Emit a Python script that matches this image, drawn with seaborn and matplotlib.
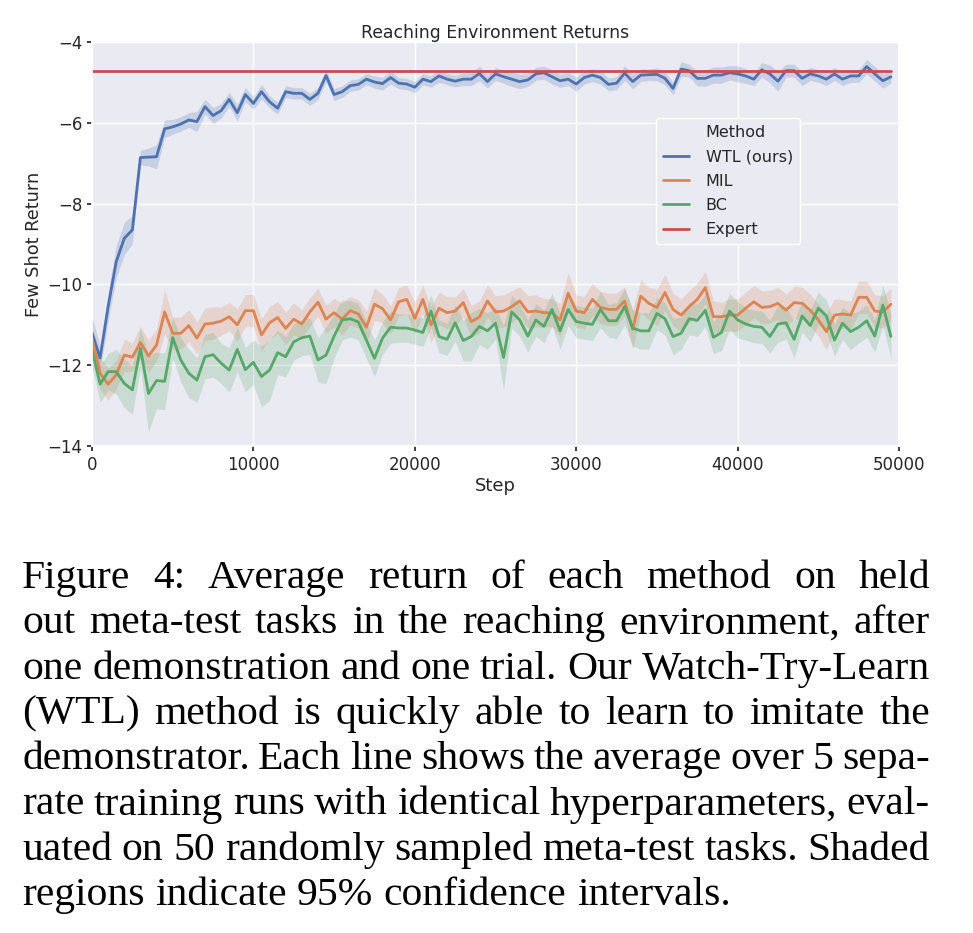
import numpy as np
import pandas as pd
import matplotlib
matplotlib.use("Agg")
import matplotlib.pyplot as plt
from matplotlib.lines import Line2D
import seaborn as sns

# training steps (one eval every 500 steps)
steps = np.arange(0, 50000, 500)

# mean few shot return per method
wtl_mean = [
    -11.20, -11.82, -10.55, -9.44, -8.86, -8.65, -6.86, -6.85, -6.84, -6.15,
    -6.10, -6.03, -5.93, -5.97, -5.60, -5.82, -5.70, -5.42, -5.75, -5.30,
    -5.52, -5.23, -5.48, -5.64, -5.23, -5.27, -5.27, -5.42, -5.27, -4.83,
    -5.30, -5.23, -5.08, -5.05, -4.92, -4.99, -5.03, -4.88, -5.02, -5.04,
    -5.12, -4.92, -4.98, -4.84, -4.92, -4.97, -4.92, -4.92, -4.78, -4.98,
    -4.79, -4.86, -4.92, -4.98, -4.94, -4.79, -4.76, -4.86, -4.96, -4.92,
    -5.04, -4.88, -4.82, -4.88, -5.05, -5.02, -4.77, -4.98, -4.82, -4.81,
    -4.80, -4.90, -5.15, -4.67, -4.71, -4.90, -4.90, -4.82, -4.82, -4.76,
    -4.79, -4.84, -4.92, -4.69, -4.79, -4.97, -4.71, -4.71, -4.90, -4.79,
    -4.84, -4.92, -4.79, -4.92, -4.84, -4.84, -4.61, -4.79, -4.96, -4.86]
mil_mean = [
    -11.33, -12.20, -12.47, -12.24, -11.75, -11.80, -11.44, -11.77, -11.50, -10.68,
    -11.21, -11.21, -11.02, -11.33, -10.98, -10.96, -10.91, -10.80, -11.00, -10.65,
    -10.65, -11.25, -10.95, -10.82, -11.09, -10.86, -10.98, -10.68, -10.44, -10.86,
    -10.70, -10.86, -10.65, -10.73, -11.06, -10.49, -10.60, -10.88, -10.43, -10.37,
    -10.84, -10.37, -11.00, -10.59, -10.70, -10.66, -10.45, -10.92, -10.81, -10.41,
    -10.68, -10.66, -10.55, -10.41, -10.68, -10.66, -10.70, -10.70, -10.88, -10.22,
    -10.66, -10.70, -10.37, -10.57, -10.62, -10.62, -10.41, -11.11, -10.29, -10.47,
    -10.57, -10.20, -10.62, -10.76, -10.55, -10.37, -10.08, -10.80, -10.80, -10.76,
    -10.76, -10.59, -10.43, -10.57, -10.55, -10.47, -10.64, -10.45, -10.47, -10.64,
    -10.88, -11.17, -10.76, -10.73, -10.76, -10.32, -10.32, -10.66, -10.68, -10.49]
bc_mean = [
    -11.62, -12.47, -12.16, -12.16, -12.45, -12.61, -11.58, -12.70, -12.38, -12.40,
    -11.32, -11.87, -12.20, -12.37, -11.79, -11.74, -11.95, -12.12, -11.61, -12.11,
    -11.93, -12.28, -12.12, -11.69, -11.79, -11.42, -11.32, -11.28, -11.87, -11.75,
    -11.28, -10.88, -10.85, -10.93, -11.38, -11.83, -11.33, -11.06, -11.08, -11.08,
    -11.13, -11.19, -10.66, -11.29, -11.36, -10.95, -11.39, -11.29, -11.04, -11.15,
    -10.96, -11.81, -10.68, -10.88, -11.28, -10.88, -11.04, -10.62, -11.15, -10.62,
    -10.92, -10.96, -10.99, -10.62, -10.90, -10.90, -10.55, -11.08, -11.15, -11.15,
    -10.72, -10.85, -11.29, -11.21, -10.85, -10.89, -10.64, -11.31, -11.19, -10.66,
    -10.88, -10.98, -11.04, -11.06, -11.29, -10.98, -10.95, -11.36, -10.78, -11.02,
    -10.59, -10.78, -11.38, -10.96, -11.17, -11.06, -10.90, -11.28, -10.51, -11.29]
expert_return = -4.72

# half width of the 95% confidence band
wtl_ci = [
    0.40, 0.30, 0.35, 0.40, 0.40, 0.35, 0.18, 0.22, 0.30, 0.22,
    0.18, 0.18, 0.18, 0.25, 0.18, 0.20, 0.18, 0.18, 0.20, 0.18,
    0.15, 0.18, 0.15, 0.15, 0.15, 0.14, 0.14, 0.15, 0.15, 0.15,
    0.15, 0.14, 0.14, 0.14, 0.14, 0.15, 0.16, 0.16, 0.14, 0.14,
    0.14, 0.14, 0.14, 0.16, 0.14, 0.14, 0.16, 0.16, 0.18, 0.16,
    0.16, 0.16, 0.18, 0.18, 0.16, 0.16, 0.16, 0.18, 0.16, 0.16,
    0.18, 0.16, 0.16, 0.16, 0.16, 0.16, 0.18, 0.18, 0.16, 0.14,
    0.16, 0.16, 0.16, 0.18, 0.16, 0.18, 0.20, 0.20, 0.20, 0.18,
    0.20, 0.18, 0.16, 0.18, 0.22, 0.25, 0.16, 0.16, 0.18, 0.16,
    0.16, 0.16, 0.16, 0.16, 0.16, 0.16, 0.18, 0.18, 0.18, 0.16]
mil_ci = [
    0.30, 0.40, 0.40, 0.35, 0.40, 0.35, 0.40, 0.40, 0.40, 0.55,
    0.40, 0.40, 0.40, 0.40, 0.40, 0.40, 0.35, 0.35, 0.40, 0.40,
    0.40, 0.40, 0.40, 0.40, 0.40, 0.40, 0.35, 0.35, 0.35, 0.35,
    0.35, 0.40, 0.35, 0.35, 0.40, 0.40, 0.35, 0.35, 0.35, 0.35,
    0.40, 0.35, 0.45, 0.40, 0.40, 0.35, 0.35, 0.40, 0.40, 0.40,
    0.40, 0.40, 0.40, 0.35, 0.40, 0.40, 0.35, 0.35, 0.40, 0.50,
    0.40, 0.40, 0.40, 0.40, 0.40, 0.40, 0.35, 0.50, 0.40, 0.40,
    0.45, 0.45, 0.40, 0.40, 0.40, 0.40, 0.40, 0.40, 0.35, 0.40,
    0.40, 0.40, 0.40, 0.40, 0.40, 0.40, 0.40, 0.40, 0.40, 0.40,
    0.40, 0.45, 0.40, 0.35, 0.35, 0.40, 0.40, 0.40, 0.40, 0.40]
bc_ci = [
    0.40, 0.45, 0.45, 0.55, 0.60, 0.60, 0.50, 0.95, 0.70, 0.70,
    0.50, 0.55, 0.60, 0.55, 0.55, 0.55, 0.50, 0.55, 0.55, 0.55,
    0.55, 0.75, 0.75, 0.55, 0.50, 0.45, 0.45, 0.45, 0.55, 0.70,
    0.55, 0.50, 0.45, 0.45, 0.45, 0.45, 0.40, 0.40, 0.35, 0.35,
    0.35, 0.35, 0.40, 0.40, 0.40, 0.45, 0.50, 0.60, 0.45, 0.45,
    0.40, 0.80, 0.40, 0.40, 0.40, 0.40, 0.40, 0.40, 0.45, 0.40,
    0.40, 0.40, 0.40, 0.45, 0.40, 0.45, 0.45, 0.45, 0.45, 0.45,
    0.40, 0.40, 0.45, 0.40, 0.40, 0.40, 0.40, 0.40, 0.45, 0.45,
    0.45, 0.40, 0.40, 0.40, 0.40, 0.45, 0.40, 0.45, 0.40, 0.40,
    0.40, 0.40, 0.40, 0.40, 0.45, 0.40, 0.40, 0.40, 0.50, 0.55]

methods = ["WTL (ours)", "MIL", "BC", "Expert"]

caption_lines = [
    "Figure 4:  Average return of each method on held",
    "out meta-test tasks in the reaching environment, after",
    "one demonstration and one trial. Our Watch-Try-Learn",
    "(WTL) method is quickly able to learn to imitate the",
    "demonstrator. Each line shows the average over 5 sepa-",
    "rate training runs with identical hyperparameters, eval-",
    "uated on 50 randomly sampled meta-test tasks. Shaded",
    "regions indicate 95% confidence intervals.",
]

# long table for seaborn
means = {"WTL (ours)": wtl_mean, "MIL": mil_mean, "BC": bc_mean,
         "Expert": [expert_return] * len(steps)}
cis = {"WTL (ours)": wtl_ci, "MIL": mil_ci, "BC": bc_ci}
df = pd.concat([pd.DataFrame({"Step": steps, "Return": means[m], "Method": m}) for m in methods])

sns.set_theme(style="darkgrid", palette="deep")
plt.rcParams.update({
    "xtick.bottom": True, "ytick.left": True,
    "xtick.major.size": 3.5, "ytick.major.size": 3.5,
    "xtick.color": ".15", "ytick.color": ".15",
    "xtick.labelsize": 12, "ytick.labelsize": 12,
})
colors = sns.color_palette("deep")[:4]
pal = dict(zip(methods, colors))

fig = plt.figure(figsize=(9.73, 9.33), dpi=100)
ax = fig.add_axes([92 / 973, 1 - 446 / 933, 807 / 973, 404 / 933])

sns.lineplot(data=df, x="Step", y="Return", hue="Method", palette=pal,
             errorbar=None, linewidth=2, ax=ax, legend=False)
for m in ["WTL (ours)", "MIL", "BC"]:
    mu = np.array(means[m])
    hw = np.array(cis[m])
    ax.fill_between(steps, mu - hw, mu + hw, color=pal[m], alpha=0.22, linewidth=0)

ax.set_xlim(0, 50000)
ax.set_ylim(-14, -4)
ax.set_yticks([-14, -12, -10, -8, -6, -4])
ax.set_xticks([0, 10000, 20000, 30000, 40000, 50000])
ax.set_title("Reaching Environment Returns", fontsize=12.4, pad=3, color=".15")
ax.set_xlabel("Step", fontsize=13, labelpad=2)
ax.set_ylabel("Few Shot Return", fontsize=12.8, labelpad=3)

# legend with the hue title shown as a first row without a line
handles = [Line2D([], [], color="none")] + [Line2D([], [], color=pal[m], lw=2) for m in methods]
labels = ["Method"] + methods
leg = ax.legend(handles, labels, loc="upper left", bbox_to_anchor=(0.699, 0.812),
                borderaxespad=0, fontsize=11.5, frameon=True, facecolor="#EAEAF2",
                edgecolor="white", framealpha=1, borderpad=0.45, labelspacing=0.58,
                handlelength=1.6, handletextpad=1.05)
leg.get_frame().set_linewidth(1.0)

# caption below the chart, justified like the paper text
fig.canvas.draw()
renderer = fig.canvas.get_renderer()
serif = ["Liberation Serif", "DejaVu Serif"]
W, H = 973, 933
left_px, right_px = 22, 930


def width_px(s, size):
    t = fig.text(0, 0, s, fontsize=size, family=serif)
    w = t.get_window_extent(renderer).width
    t.remove()
    return w


base = 10
base_space = width_px("a a", base) - width_px("aa", base)
widest = max(sum(width_px(w, base) for w in ln.split()) + (len(ln.split()) - 1) * base_space * 0.85
             for ln in caption_lines[:-1])
size = base * (right_px - left_px) / widest
space = width_px("a a", size) - width_px("aa", size)

for i, ln in enumerate(caption_lines):
    words = ln.split()
    ws = [width_px(w, size) for w in words]
    y = 588 + 45.3 * i
    if i < len(caption_lines) - 1:
        gap = (right_px - left_px - sum(ws)) / (len(words) - 1)
    else:
        gap = space
    x = left_px
    for w, wd in zip(words, ws):
        fig.text(x / W, 1 - y / H, w, fontsize=size, family=serif, va="baseline", ha="left", color="black")
        x += wd + gap

fig.savefig("out.png", dpi=100)
